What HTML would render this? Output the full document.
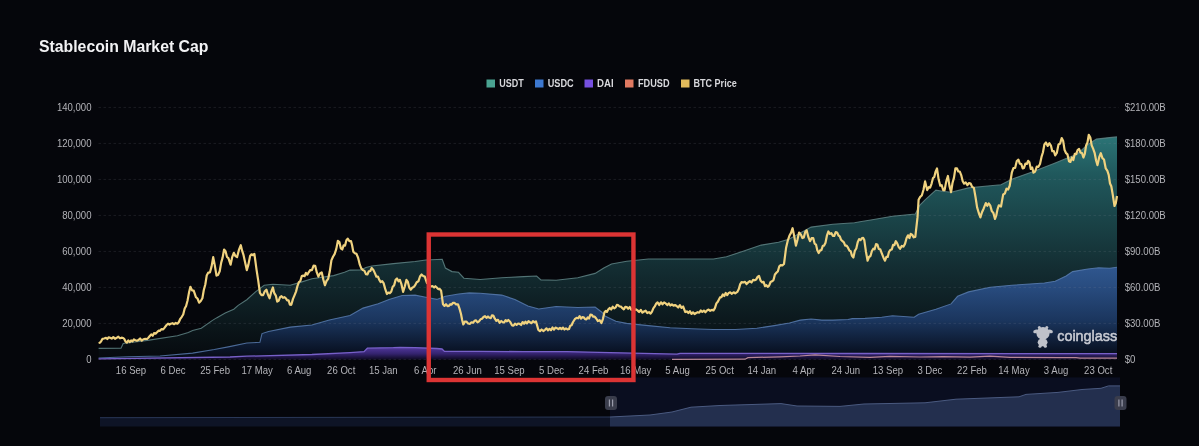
<!DOCTYPE html><html><head><meta charset="utf-8"><style>
html,body{margin:0;padding:0;background:#05060b;width:1199px;height:446px;overflow:hidden}
svg{position:absolute;left:0;top:0;display:block;filter:blur(0.3px)}
text{font-family:"Liberation Sans",sans-serif}
</style></head><body>
<svg width="1199" height="446" viewBox="0 0 1199 446">
<defs>
<linearGradient id="gT" gradientUnits="userSpaceOnUse" x1="0" y1="137" x2="0" y2="359.4"><stop offset="0" stop-color="rgb(43,116,118)"/><stop offset="0.17" stop-color="rgb(32,88,92)"/><stop offset="0.6" stop-color="rgb(19,44,49)"/><stop offset="1" stop-color="rgb(6,9,13)"/></linearGradient>
<linearGradient id="gC" gradientUnits="userSpaceOnUse" x1="0" y1="267" x2="0" y2="359.4"><stop offset="0" stop-color="rgb(50,90,150)"/><stop offset="0.2" stop-color="rgb(43,80,136)"/><stop offset="0.58" stop-color="rgb(28,56,99)"/><stop offset="0.9" stop-color="rgb(10,20,40)"/><stop offset="1" stop-color="rgb(7,10,20)"/></linearGradient>
<linearGradient id="gD" gradientUnits="userSpaceOnUse" x1="0" y1="347" x2="0" y2="359.4"><stop offset="0" stop-color="#53399f"/><stop offset="0.55" stop-color="#34236e"/><stop offset="1" stop-color="#0e0a22"/></linearGradient>
</defs>

<path d="M98.6,348.4 L121.0,348.2 L123.2,343.4 L149.2,340.1 L177.4,335.8 L188.3,332.5 L192.6,330.4 L201.3,328.2 L212.1,320.6 L216.5,317.9 L225.2,313.0 L233.8,309.2 L238.2,305.4 L246.8,299.7 L255.5,291.8 L264.2,285.3 L272.9,284.2 L290.2,285.3 L301.1,282.1 L311.9,278.8 L333.6,275.6 L344.5,272.3 L350.0,270.1 L360.8,270.0 L366.0,267.5 L371.7,266.0 L393.4,263.6 L415.1,261.5 L425.9,260.0 L442.2,259.3 L445.4,268.0 L452.0,271.6 L458.5,272.3 L463.9,278.2 L480.2,279.5 L501.8,277.7 L523.5,276.6 L536.6,276.0 L540.9,279.9 L556.1,280.3 L577.8,277.7 L595.1,273.4 L603.8,268.0 L611.5,264.0 L626.7,261.2 L648.4,259.0 L680.9,259.0 L713.5,259.0 L726.5,256.8 L743.8,251.0 L761.2,245.1 L778.5,242.3 L789.4,239.0 L811.1,227.1 L832.8,224.3 L854.5,222.8 L860.0,221.7 L870.8,220.0 L892.5,216.2 L915.3,214.0 L919.7,205.3 L925.1,199.8 L935.9,190.1 L942.4,191.2 L951.1,192.2 L968.5,187.9 L990.2,185.7 L1001.0,184.7 L1011.8,179.2 L1033.5,171.6 L1055.2,163.0 L1066.1,158.6 L1076.9,154.3 L1087.8,144.5 L1096.4,139.1 L1109.5,137.6 L1117.0,136.9 L1117.0,359.4 L98.6,359.4 Z" fill="url(#gT)"/>
<path d="M98.6,348.4 L121.0,348.2 L123.2,343.4 L149.2,340.1 L177.4,335.8 L188.3,332.5 L192.6,330.4 L201.3,328.2 L212.1,320.6 L216.5,317.9 L225.2,313.0 L233.8,309.2 L238.2,305.4 L246.8,299.7 L255.5,291.8 L264.2,285.3 L272.9,284.2 L290.2,285.3 L301.1,282.1 L311.9,278.8 L333.6,275.6 L344.5,272.3 L350.0,270.1 L360.8,270.0 L366.0,267.5 L371.7,266.0 L393.4,263.6 L415.1,261.5 L425.9,260.0 L442.2,259.3 L445.4,268.0 L452.0,271.6 L458.5,272.3 L463.9,278.2 L480.2,279.5 L501.8,277.7 L523.5,276.6 L536.6,276.0 L540.9,279.9 L556.1,280.3 L577.8,277.7 L595.1,273.4 L603.8,268.0 L611.5,264.0 L626.7,261.2 L648.4,259.0 L680.9,259.0 L713.5,259.0 L726.5,256.8 L743.8,251.0 L761.2,245.1 L778.5,242.3 L789.4,239.0 L811.1,227.1 L832.8,224.3 L854.5,222.8 L860.0,221.7 L870.8,220.0 L892.5,216.2 L915.3,214.0 L919.7,205.3 L925.1,199.8 L935.9,190.1 L942.4,191.2 L951.1,192.2 L968.5,187.9 L990.2,185.7 L1001.0,184.7 L1011.8,179.2 L1033.5,171.6 L1055.2,163.0 L1066.1,158.6 L1076.9,154.3 L1087.8,144.5 L1096.4,139.1 L1109.5,137.6 L1117.0,136.9" fill="none" stroke="#5f8485" stroke-width="1.1" opacity="0.85"/>
<path d="M98.6,358.0 L127.5,356.8 L160.0,356.0 L192.6,353.1 L214.3,349.5 L229.5,346.6 L246.8,343.0 L259.9,342.3 L262.0,333.6 L268.5,331.5 L290.2,327.1 L311.9,325.0 L329.3,320.0 L350.0,315.5 L363.0,308.1 L378.2,303.8 L389.0,299.4 L402.1,295.5 L415.1,295.1 L425.9,297.2 L436.8,299.4 L445.4,296.2 L458.5,294.0 L469.3,292.9 L480.2,293.3 L501.8,295.1 L514.9,299.4 L527.9,306.0 L538.7,309.0 L556.1,306.5 L577.8,307.5 L595.1,307.0 L601.6,312.0 L605.0,316.0 L615.8,321.2 L626.7,323.4 L648.4,325.6 L670.1,327.7 L691.8,328.8 L713.5,329.5 L735.2,329.5 L756.8,328.2 L774.2,325.6 L789.4,323.0 L800.2,320.1 L811.1,319.0 L821.9,320.1 L832.8,320.1 L848.0,319.5 L852.3,318.6 L865.0,318.4 L881.7,317.3 L892.5,315.8 L914.2,317.3 L918.6,314.3 L935.9,309.3 L951.1,303.9 L957.6,296.3 L968.5,291.9 L990.2,287.2 L1011.8,285.2 L1044.4,283.0 L1055.2,281.3 L1066.1,275.9 L1072.6,271.6 L1087.8,269.0 L1098.6,267.7 L1109.5,268.3 L1117.0,267.2 L1117.0,359.4 L98.6,359.4 Z" fill="url(#gC)" opacity="0.92"/>
<path d="M98.6,358.0 L127.5,356.8 L160.0,356.0 L192.6,353.1 L214.3,349.5 L229.5,346.6 L246.8,343.0 L259.9,342.3 L262.0,333.6 L268.5,331.5 L290.2,327.1 L311.9,325.0 L329.3,320.0 L350.0,315.5 L363.0,308.1 L378.2,303.8 L389.0,299.4 L402.1,295.5 L415.1,295.1 L425.9,297.2 L436.8,299.4 L445.4,296.2 L458.5,294.0 L469.3,292.9 L480.2,293.3 L501.8,295.1 L514.9,299.4 L527.9,306.0 L538.7,309.0 L556.1,306.5 L577.8,307.5 L595.1,307.0 L601.6,312.0 L605.0,316.0 L615.8,321.2 L626.7,323.4 L648.4,325.6 L670.1,327.7 L691.8,328.8 L713.5,329.5 L735.2,329.5 L756.8,328.2 L774.2,325.6 L789.4,323.0 L800.2,320.1 L811.1,319.0 L821.9,320.1 L832.8,320.1 L848.0,319.5 L852.3,318.6 L865.0,318.4 L881.7,317.3 L892.5,315.8 L914.2,317.3 L918.6,314.3 L935.9,309.3 L951.1,303.9 L957.6,296.3 L968.5,291.9 L990.2,287.2 L1011.8,285.2 L1044.4,283.0 L1055.2,281.3 L1066.1,275.9 L1072.6,271.6 L1087.8,269.0 L1098.6,267.7 L1109.5,268.3 L1117.0,267.2" fill="none" stroke="#5b80b4" stroke-width="1.1" opacity="0.8"/>
<path d="M98.6,358.8 L230.0,357.0 L246.8,356.2 L311.9,354.5 L350.0,352.6 L364.0,351.6 L367.4,348.2 L393.4,347.6 L400.0,347.3 L415.1,347.7 L436.8,348.5 L442.0,349.0 L444.5,351.4 L480.2,351.4 L523.5,351.6 L566.9,351.6 L610.0,352.6 L677.0,354.2 L680.0,353.4 L865.0,353.5 L1117.0,353.6 L1117.0,359.4 L98.6,359.4 Z" fill="url(#gD)"/>
<path d="M98.6,358.8 L230.0,357.0 L246.8,356.2 L311.9,354.5 L350.0,352.6 L364.0,351.6 L367.4,348.2 L393.4,347.6 L400.0,347.3 L415.1,347.7 L436.8,348.5 L442.0,349.0 L444.5,351.4 L480.2,351.4 L523.5,351.6 L566.9,351.6 L610.0,352.6 L677.0,354.2 L680.0,353.4 L865.0,353.5 L1117.0,353.6" fill="none" stroke="#7760c8" stroke-width="1.3"/>
<path d="M672.0,359.4 L745.0,359.2 L748.0,357.6 L780.0,356.8 L800.0,356.0 L815.0,354.8 L840.0,356.5 L870.0,357.3 L890.0,356.3 L920.0,357.0 L943.0,356.6 L970.0,357.2 L990.0,356.1 L1010.0,357.3 L1060.0,357.6 L1076.0,357.6 L1080.0,358.2 L1117.0,358.2" fill="none" stroke="#b88898" stroke-width="1.2"/>
<line x1="98.5" y1="107.4" x2="1119" y2="107.4" stroke="#9a9caa" stroke-opacity="0.15" stroke-width="1" stroke-dasharray="2.5 2.5"/>
<line x1="98.5" y1="143.4" x2="1119" y2="143.4" stroke="#9a9caa" stroke-opacity="0.15" stroke-width="1" stroke-dasharray="2.5 2.5"/>
<line x1="98.5" y1="179.4" x2="1119" y2="179.4" stroke="#9a9caa" stroke-opacity="0.15" stroke-width="1" stroke-dasharray="2.5 2.5"/>
<line x1="98.5" y1="215.4" x2="1119" y2="215.4" stroke="#9a9caa" stroke-opacity="0.15" stroke-width="1" stroke-dasharray="2.5 2.5"/>
<line x1="98.5" y1="251.4" x2="1119" y2="251.4" stroke="#9a9caa" stroke-opacity="0.15" stroke-width="1" stroke-dasharray="2.5 2.5"/>
<line x1="98.5" y1="287.4" x2="1119" y2="287.4" stroke="#9a9caa" stroke-opacity="0.15" stroke-width="1" stroke-dasharray="2.5 2.5"/>
<line x1="98.5" y1="323.4" x2="1119" y2="323.4" stroke="#9a9caa" stroke-opacity="0.15" stroke-width="1" stroke-dasharray="2.5 2.5"/>
<line x1="98.5" y1="359.4" x2="1119" y2="359.4" stroke="#9a9caa" stroke-opacity="0.15" stroke-width="1" stroke-dasharray="2.5 2.5"/>
<path d="M98.6,343.0 L99.8,342.7 L101.0,341.5 L102.5,338.8 L104.0,338.5 L106.0,337.9 L107.3,339.0 L108.7,337.3 L110.0,337.8 L111.7,338.6 L113.3,337.1 L115.0,338.8 L116.7,337.8 L118.3,336.7 L120.0,338.3 L121.6,337.7 L123.2,338.0 L124.3,339.0 L125.5,341.5 L126.9,342.5 L128.3,340.4 L129.7,342.1 L131.1,340.5 L132.5,341.4 L133.9,339.4 L135.3,340.3 L136.9,340.7 L138.4,340.1 L140.1,338.5 L141.7,340.7 L143.4,339.2 L145.2,338.8 L147.1,339.0 L148.4,337.8 L149.8,336.0 L151.2,334.4 L152.7,335.8 L154.1,333.1 L155.6,333.6 L157.0,332.3 L158.5,330.7 L160.0,330.8 L161.4,329.1 L162.9,329.5 L164.4,327.9 L166.6,325.0 L168.0,323.7 L169.5,324.7 L170.9,323.7 L172.5,323.2 L174.2,324.2 L175.8,322.9 L177.4,323.7 L178.9,322.0 L180.3,318.8 L181.8,316.8 L183.2,314.5 L184.7,308.6 L186.1,306.0 L187.5,300.7 L189.0,292.6 L190.4,286.8 L192.1,290.4 L193.7,290.7 L195.9,297.2 L197.5,298.5 L199.1,302.7 L200.8,301.0 L202.4,298.3 L203.8,290.0 L205.3,284.5 L206.7,275.6 L208.3,272.6 L210.0,272.3 L211.6,266.4 L213.2,257.1 L214.8,265.4 L216.5,275.6 L218.1,274.9 L219.7,271.2 L221.2,262.6 L222.6,257.6 L224.1,249.5 L225.5,251.1 L227.0,257.0 L228.4,258.2 L230.6,264.7 L232.2,257.1 L233.8,252.8 L235.4,256.1 L237.1,257.1 L238.9,249.9 L240.8,245.2 L242.1,250.7 L243.4,254.6 L244.7,260.4 L246.8,270.1 L248.4,264.6 L250.1,256.0 L251.5,254.3 L253.0,255.2 L254.4,253.9 L256.6,270.1 L258.2,280.4 L259.9,292.9 L261.5,295.2 L263.1,295.1 L264.8,291.2 L266.4,289.7 L268.0,294.8 L269.6,298.3 L271.2,292.0 L272.9,287.5 L274.3,293.2 L275.8,295.6 L277.2,301.6 L278.6,300.8 L280.1,297.2 L281.5,296.2 L283.0,297.8 L284.4,297.2 L285.9,298.3 L287.2,300.3 L288.6,300.4 L289.9,304.7 L291.3,304.8 L293.0,298.9 L294.6,295.1 L296.0,291.6 L297.5,285.9 L298.9,282.1 L300.3,281.0 L301.8,276.1 L303.2,275.6 L304.6,276.2 L305.9,272.8 L307.3,274.7 L308.7,272.3 L310.3,270.0 L311.9,270.1 L313.6,265.7 L315.2,265.8 L316.8,272.4 L318.4,276.6 L320.0,273.5 L321.7,272.3 L323.3,279.5 L324.9,285.3 L326.5,281.0 L328.2,278.8 L329.8,271.3 L331.4,260.4 L333.0,256.8 L334.7,253.9 L336.3,248.9 L337.9,240.8 L339.4,242.0 L340.8,248.3 L342.3,249.5 L343.6,245.3 L345.0,245.7 L346.4,240.2 L347.7,238.7 L349.4,241.1 L351.0,241.0 L352.1,245.3 L353.3,251.7 L354.9,253.3 L356.5,253.9 L358.1,257.7 L359.8,264.7 L361.4,268.6 L363.0,270.1 L364.5,270.9 L365.9,274.1 L367.4,274.5 L368.8,271.3 L370.3,271.0 L371.7,268.0 L373.4,269.9 L375.0,273.4 L376.4,276.7 L377.9,276.5 L379.3,279.9 L380.7,282.1 L382.2,281.1 L383.6,283.1 L385.2,288.9 L386.9,294.0 L388.3,292.6 L389.8,293.1 L391.2,291.8 L392.7,286.7 L394.1,285.4 L395.6,279.9 L397.0,278.5 L398.5,281.3 L399.9,279.9 L401.5,284.4 L403.1,291.8 L404.8,286.5 L406.4,279.9 L407.8,281.7 L409.3,287.7 L410.7,289.7 L412.2,287.8 L413.6,287.1 L415.1,285.3 L416.7,282.2 L418.4,281.3 L420.0,276.5 L421.6,274.5 L423.2,276.0 L424.8,276.6 L427.0,283.1 L428.4,283.0 L429.9,286.1 L431.3,286.4 L432.7,286.2 L434.1,287.5 L435.4,286.2 L436.8,287.5 L438.2,289.1 L439.7,288.9 L441.1,290.7 L443.0,304.3 L444.5,305.9 L446.0,304.2 L447.5,306.1 L449.0,305.8 L450.3,304.2 L451.6,304.6 L453.0,302.8 L454.3,302.8 L456.1,304.4 L458.0,304.3 L459.5,308.6 L461.0,314.0 L462.1,319.7 L463.3,324.5 L464.8,321.7 L466.3,321.5 L468.1,323.5 L470.0,323.8 L471.5,322.3 L473.0,322.8 L474.5,320.8 L476.0,320.3 L477.5,322.3 L479.0,321.3 L480.5,319.3 L482.0,318.8 L483.5,317.0 L485.0,316.1 L486.5,317.9 L488.0,316.5 L489.5,317.8 L490.8,318.1 L492.0,315.3 L493.3,315.5 L494.8,318.7 L496.3,320.8 L498.0,319.8 L499.6,322.8 L501.3,321.0 L503.0,322.3 L504.3,322.3 L505.6,320.1 L507.0,321.3 L508.3,320.0 L510.1,321.7 L512.0,325.3 L513.5,325.6 L515.0,323.7 L516.6,324.8 L518.1,323.5 L519.6,323.8 L521.1,325.0 L522.6,322.1 L524.1,323.8 L525.5,321.7 L527.0,323.4 L528.5,321.1 L530.0,322.3 L531.5,323.2 L533.0,321.1 L534.5,322.3 L536.0,321.5 L537.1,325.4 L538.3,329.8 L540.0,331.1 L541.6,329.5 L543.3,331.0 L545.0,329.8 L546.5,328.3 L548.0,330.3 L549.5,328.8 L551.0,330.3 L552.5,327.5 L554.0,329.7 L555.5,327.6 L557.0,328.3 L558.5,329.1 L560.0,327.8 L561.5,329.1 L563.0,327.6 L564.5,329.5 L566.0,328.3 L567.5,329.3 L569.0,329.0 L570.3,325.7 L571.6,325.2 L572.9,322.3 L574.8,319.2 L576.6,317.8 L578.1,318.3 L579.6,316.1 L581.1,318.6 L582.6,317.0 L583.9,317.5 L585.1,319.1 L586.4,319.3 L587.7,317.5 L589.0,318.5 L590.4,314.7 L591.7,314.8 L593.2,316.7 L594.7,316.7 L596.2,318.5 L597.9,321.1 L599.7,320.2 L601.4,323.0 L602.9,319.1 L604.4,312.5 L605.7,310.8 L606.9,311.9 L608.2,309.5 L609.7,307.9 L611.2,309.5 L612.7,306.7 L614.2,308.3 L615.7,307.3 L616.9,304.9 L618.0,305.0 L619.5,306.5 L620.9,306.6 L622.4,308.2 L623.8,309.3 L625.3,306.9 L626.7,307.1 L628.2,308.8 L629.8,307.0 L631.3,309.8 L632.9,308.2 L634.4,310.2 L636.0,309.3 L637.5,310.4 L639.1,312.0 L640.8,309.9 L642.4,312.7 L644.0,311.5 L645.6,310.7 L647.3,313.0 L649.0,312.1 L650.6,313.6 L652.0,311.6 L653.3,308.4 L654.6,306.7 L656.0,303.9 L657.6,302.4 L659.2,305.0 L660.9,302.3 L662.5,304.3 L664.1,302.4 L665.7,303.4 L667.3,305.1 L668.8,303.4 L670.4,305.5 L671.9,304.3 L673.5,305.7 L675.0,305.0 L676.6,306.0 L678.2,307.5 L679.9,305.2 L681.5,307.8 L683.1,306.5 L685.3,312.1 L686.8,311.4 L688.4,313.0 L689.9,311.2 L691.5,313.9 L693.0,312.4 L694.6,314.0 L696.1,313.0 L697.7,312.2 L699.2,312.7 L700.8,310.5 L702.3,311.9 L703.9,310.6 L705.4,312.3 L707.0,310.4 L708.6,309.6 L710.2,310.8 L711.9,309.9 L713.5,310.4 L714.9,308.1 L716.4,303.4 L717.8,301.7 L720.0,297.4 L721.4,297.1 L722.9,294.4 L724.3,296.0 L725.7,292.9 L727.2,295.2 L728.6,293.0 L730.2,292.4 L731.9,293.8 L733.6,292.3 L735.2,293.3 L737.3,291.9 L738.8,289.1 L740.2,284.1 L741.7,282.0 L743.3,282.5 L745.0,281.8 L746.6,284.0 L748.2,282.4 L749.8,281.1 L751.5,282.5 L753.1,279.9 L754.7,280.3 L756.1,279.6 L757.6,276.9 L759.0,275.9 L760.6,280.7 L762.3,282.4 L763.6,281.9 L765.0,286.2 L766.4,285.2 L767.7,286.8 L769.1,285.6 L770.6,282.0 L772.0,281.3 L773.5,280.1 L774.9,274.5 L776.4,272.7 L777.8,271.5 L779.3,266.3 L780.7,265.1 L782.4,265.3 L784.0,264.0 L786.1,247.7 L787.8,240.5 L789.4,235.8 L791.0,232.9 L792.6,228.2 L794.2,236.1 L795.9,245.6 L797.5,239.6 L799.1,232.5 L800.8,234.4 L802.4,238.0 L803.8,237.4 L805.3,231.8 L806.7,230.4 L808.4,237.2 L810.0,241.2 L811.6,238.2 L813.2,238.0 L814.6,243.6 L816.0,244.6 L817.3,250.2 L818.7,253.1 L820.1,250.4 L821.4,250.2 L822.8,245.8 L824.1,245.6 L825.5,242.7 L827.0,235.3 L828.4,231.5 L829.9,233.9 L831.3,233.1 L832.8,235.8 L834.2,236.0 L835.7,232.2 L837.1,232.5 L838.5,235.5 L839.8,236.4 L841.1,239.8 L842.5,241.2 L843.9,242.3 L845.2,245.7 L846.6,245.6 L848.0,247.7 L849.4,250.6 L850.7,251.3 L852.0,255.9 L853.4,257.5 L854.8,250.9 L856.3,248.5 L857.7,242.3 L859.1,239.1 L860.6,240.1 L862.0,238.0 L863.1,237.9 L864.3,240.1 L866.0,252.0 L867.6,260.7 L869.0,257.0 L870.5,256.0 L871.9,251.0 L873.3,248.7 L874.6,249.3 L876.0,244.2 L877.4,244.5 L878.8,249.0 L880.3,249.4 L881.7,253.1 L883.4,257.4 L885.0,260.7 L886.4,256.9 L887.7,257.0 L889.0,251.8 L890.4,249.9 L891.8,249.5 L893.1,244.9 L894.4,245.2 L895.8,241.2 L897.2,243.3 L898.7,247.1 L900.1,248.8 L901.8,245.9 L903.4,246.6 L905.0,243.9 L906.6,238.0 L908.0,235.3 L909.4,238.1 L910.7,233.9 L912.1,234.7 L913.7,237.3 L915.3,236.9 L917.5,217.4 L918.6,199.8 L920.2,196.9 L921.8,195.5 L923.5,189.7 L925.1,181.4 L927.2,190.1 L928.7,187.2 L930.1,187.6 L931.6,183.6 L933.0,178.1 L934.3,177.0 L935.6,171.6 L937.0,168.4 L938.6,179.3 L940.3,185.7 L941.7,185.2 L943.2,190.1 L944.6,190.1 L946.2,181.6 L947.9,176.0 L949.5,186.1 L951.1,192.2 L952.5,183.0 L954.0,177.6 L955.4,168.4 L956.9,168.3 L958.3,171.5 L959.8,171.6 L961.2,175.1 L962.7,181.3 L964.1,183.6 L965.7,182.4 L967.4,185.1 L969.0,183.0 L970.6,183.6 L972.2,186.9 L973.9,187.9 L975.5,197.0 L977.1,207.4 L978.8,213.0 L980.4,217.4 L982.0,212.2 L983.6,208.7 L985.8,203.1 L987.3,205.8 L988.7,203.5 L990.2,205.4 L991.8,211.1 L993.4,213.0 L995.0,219.0 L996.3,215.3 L997.5,209.4 L998.8,205.3 L1001.0,206.5 L1003.2,194.4 L1004.8,193.6 L1006.5,188.7 L1008.1,189.5 L1009.7,185.7 L1011.8,172.7 L1013.4,168.1 L1015.1,168.0 L1016.8,161.0 L1018.4,159.7 L1019.8,163.6 L1021.3,164.0 L1022.7,168.4 L1024.0,167.9 L1025.4,163.7 L1026.8,164.0 L1028.1,160.8 L1029.4,162.2 L1030.8,169.0 L1032.2,167.5 L1033.5,172.7 L1035.1,171.5 L1036.8,166.6 L1038.4,166.8 L1040.0,164.0 L1041.5,156.9 L1042.9,152.5 L1044.4,144.5 L1046.0,142.5 L1047.7,145.9 L1049.3,143.2 L1050.9,145.6 L1052.3,151.2 L1053.8,151.0 L1055.2,155.4 L1056.8,153.0 L1058.5,144.4 L1060.1,143.6 L1061.7,138.0 L1063.2,141.1 L1064.6,150.1 L1066.1,153.2 L1067.5,154.4 L1069.0,161.2 L1070.4,161.9 L1071.9,157.5 L1073.3,160.0 L1074.8,153.8 L1076.2,154.1 L1077.6,150.1 L1079.1,148.9 L1080.5,152.7 L1082.0,153.0 L1083.4,157.5 L1084.8,153.9 L1086.1,145.5 L1087.5,142.4 L1088.8,134.8 L1090.3,137.5 L1091.7,145.4 L1093.2,148.9 L1094.6,152.8 L1096.1,160.5 L1097.5,165.1 L1099.2,157.2 L1100.8,153.2 L1102.4,158.1 L1104.0,159.5 L1105.7,168.3 L1107.3,170.6 L1108.7,174.9 L1110.0,183.5 L1111.3,186.3 L1112.7,194.4 L1114.5,206.0 L1115.8,203.1 L1117.0,196.0" fill="none" stroke="#f0d27f" stroke-width="2.2" stroke-linejoin="round"/>
<text x="39" y="51.5" font-size="15.8" font-weight="bold" fill="#f2f2f4">Stablecoin Market Cap</text>
<rect x="486.5" y="79.5" width="8.5" height="8" fill="#4aa392"/>
<text x="499.3" y="86.7" font-size="10" font-weight="bold" fill="#d8d8dc" textLength="24.5" lengthAdjust="spacingAndGlyphs">USDT</text>
<rect x="535" y="79.5" width="8.5" height="8" fill="#3d78d0"/>
<text x="547.7" y="86.7" font-size="10" font-weight="bold" fill="#d8d8dc" textLength="26" lengthAdjust="spacingAndGlyphs">USDC</text>
<rect x="584.5" y="79.5" width="8.5" height="8" fill="#7650e0"/>
<text x="597.1" y="86.7" font-size="10" font-weight="bold" fill="#d8d8dc" textLength="16.6" lengthAdjust="spacingAndGlyphs">DAI</text>
<rect x="625" y="79.5" width="8.5" height="8" fill="#e07a62"/>
<text x="638" y="86.7" font-size="10" font-weight="bold" fill="#d8d8dc" textLength="31.6" lengthAdjust="spacingAndGlyphs">FDUSD</text>
<rect x="681" y="79.5" width="8.5" height="8" fill="#e3bb5c"/>
<text x="693.5" y="86.7" font-size="10" font-weight="bold" fill="#d8d8dc" textLength="43.2" lengthAdjust="spacingAndGlyphs">BTC Price</text>
<text x="91.5" y="110.8" font-size="10.3" fill="#b3b3b8" text-anchor="end" textLength="34.6" lengthAdjust="spacingAndGlyphs">140,000</text>
<text x="91.5" y="146.8" font-size="10.3" fill="#b3b3b8" text-anchor="end" textLength="34.6" lengthAdjust="spacingAndGlyphs">120,000</text>
<text x="91.5" y="182.8" font-size="10.3" fill="#b3b3b8" text-anchor="end" textLength="34.6" lengthAdjust="spacingAndGlyphs">100,000</text>
<text x="91.5" y="218.8" font-size="10.3" fill="#b3b3b8" text-anchor="end" textLength="29.3" lengthAdjust="spacingAndGlyphs">80,000</text>
<text x="91.5" y="254.8" font-size="10.3" fill="#b3b3b8" text-anchor="end" textLength="29.3" lengthAdjust="spacingAndGlyphs">60,000</text>
<text x="91.5" y="290.8" font-size="10.3" fill="#b3b3b8" text-anchor="end" textLength="29.3" lengthAdjust="spacingAndGlyphs">40,000</text>
<text x="91.5" y="326.8" font-size="10.3" fill="#b3b3b8" text-anchor="end" textLength="29.3" lengthAdjust="spacingAndGlyphs">20,000</text>
<text x="91.5" y="362.8" font-size="10.3" fill="#b3b3b8" text-anchor="end" textLength="5.3" lengthAdjust="spacingAndGlyphs">0</text>
<text x="1124.7" y="110.8" font-size="10.3" fill="#b3b3b8" textLength="41.0" lengthAdjust="spacingAndGlyphs">$210.00B</text>
<text x="1124.7" y="146.8" font-size="10.3" fill="#b3b3b8" textLength="41.0" lengthAdjust="spacingAndGlyphs">$180.00B</text>
<text x="1124.7" y="182.8" font-size="10.3" fill="#b3b3b8" textLength="41.0" lengthAdjust="spacingAndGlyphs">$150.00B</text>
<text x="1124.7" y="218.8" font-size="10.3" fill="#b3b3b8" textLength="41.0" lengthAdjust="spacingAndGlyphs">$120.00B</text>
<text x="1124.7" y="254.8" font-size="10.3" fill="#b3b3b8" textLength="35.7" lengthAdjust="spacingAndGlyphs">$90.00B</text>
<text x="1124.7" y="290.8" font-size="10.3" fill="#b3b3b8" textLength="35.7" lengthAdjust="spacingAndGlyphs">$60.00B</text>
<text x="1124.7" y="326.8" font-size="10.3" fill="#b3b3b8" textLength="35.7" lengthAdjust="spacingAndGlyphs">$30.00B</text>
<text x="1124.7" y="362.8" font-size="10.3" fill="#b3b3b8" textLength="10.7" lengthAdjust="spacingAndGlyphs">$0</text>
<text x="131.0" y="374.3" font-size="10.3" fill="#b3b3b8" text-anchor="middle" textLength="30.4" lengthAdjust="spacingAndGlyphs">16 Sep</text>
<text x="173.1" y="374.3" font-size="10.3" fill="#b3b3b8" text-anchor="middle" textLength="25.0" lengthAdjust="spacingAndGlyphs">6 Dec</text>
<text x="215.1" y="374.3" font-size="10.3" fill="#b3b3b8" text-anchor="middle" textLength="29.8" lengthAdjust="spacingAndGlyphs">25 Feb</text>
<text x="257.1" y="374.3" font-size="10.3" fill="#b3b3b8" text-anchor="middle" textLength="31.4" lengthAdjust="spacingAndGlyphs">17 May</text>
<text x="299.2" y="374.3" font-size="10.3" fill="#b3b3b8" text-anchor="middle" textLength="24.5" lengthAdjust="spacingAndGlyphs">6 Aug</text>
<text x="341.2" y="374.3" font-size="10.3" fill="#b3b3b8" text-anchor="middle" textLength="28.2" lengthAdjust="spacingAndGlyphs">26 Oct</text>
<text x="383.3" y="374.3" font-size="10.3" fill="#b3b3b8" text-anchor="middle" textLength="28.8" lengthAdjust="spacingAndGlyphs">15 Jan</text>
<text x="425.3" y="374.3" font-size="10.3" fill="#b3b3b8" text-anchor="middle" textLength="22.4" lengthAdjust="spacingAndGlyphs">6 Apr</text>
<text x="467.4" y="374.3" font-size="10.3" fill="#b3b3b8" text-anchor="middle" textLength="28.8" lengthAdjust="spacingAndGlyphs">26 Jun</text>
<text x="509.4" y="374.3" font-size="10.3" fill="#b3b3b8" text-anchor="middle" textLength="30.4" lengthAdjust="spacingAndGlyphs">15 Sep</text>
<text x="551.5" y="374.3" font-size="10.3" fill="#b3b3b8" text-anchor="middle" textLength="25.0" lengthAdjust="spacingAndGlyphs">5 Dec</text>
<text x="593.5" y="374.3" font-size="10.3" fill="#b3b3b8" text-anchor="middle" textLength="29.8" lengthAdjust="spacingAndGlyphs">24 Feb</text>
<text x="635.6" y="374.3" font-size="10.3" fill="#b3b3b8" text-anchor="middle" textLength="31.4" lengthAdjust="spacingAndGlyphs">16 May</text>
<text x="677.6" y="374.3" font-size="10.3" fill="#b3b3b8" text-anchor="middle" textLength="24.5" lengthAdjust="spacingAndGlyphs">5 Aug</text>
<text x="719.7" y="374.3" font-size="10.3" fill="#b3b3b8" text-anchor="middle" textLength="28.2" lengthAdjust="spacingAndGlyphs">25 Oct</text>
<text x="761.8" y="374.3" font-size="10.3" fill="#b3b3b8" text-anchor="middle" textLength="28.8" lengthAdjust="spacingAndGlyphs">14 Jan</text>
<text x="803.8" y="374.3" font-size="10.3" fill="#b3b3b8" text-anchor="middle" textLength="22.4" lengthAdjust="spacingAndGlyphs">4 Apr</text>
<text x="845.8" y="374.3" font-size="10.3" fill="#b3b3b8" text-anchor="middle" textLength="28.8" lengthAdjust="spacingAndGlyphs">24 Jun</text>
<text x="887.9" y="374.3" font-size="10.3" fill="#b3b3b8" text-anchor="middle" textLength="30.4" lengthAdjust="spacingAndGlyphs">13 Sep</text>
<text x="929.9" y="374.3" font-size="10.3" fill="#b3b3b8" text-anchor="middle" textLength="25.0" lengthAdjust="spacingAndGlyphs">3 Dec</text>
<text x="972.0" y="374.3" font-size="10.3" fill="#b3b3b8" text-anchor="middle" textLength="29.8" lengthAdjust="spacingAndGlyphs">22 Feb</text>
<text x="1014.0" y="374.3" font-size="10.3" fill="#b3b3b8" text-anchor="middle" textLength="31.4" lengthAdjust="spacingAndGlyphs">14 May</text>
<text x="1056.1" y="374.3" font-size="10.3" fill="#b3b3b8" text-anchor="middle" textLength="24.5" lengthAdjust="spacingAndGlyphs">3 Aug</text>
<text x="1098.2" y="374.3" font-size="10.3" fill="#b3b3b8" text-anchor="middle" textLength="28.2" lengthAdjust="spacingAndGlyphs">23 Oct</text>
<g fill="#bfc2ca"><ellipse cx="1043" cy="333.2" rx="6.6" ry="6.3"/><ellipse cx="1035.8" cy="331.4" rx="2.7" ry="1.7" transform="rotate(-20 1035.8 331.4)"/><ellipse cx="1050.3" cy="331.4" rx="2.7" ry="1.7" transform="rotate(20 1050.3 331.4)"/><circle cx="1039.3" cy="327.6" r="1.5"/><circle cx="1046.8" cy="327.6" r="1.5"/><ellipse cx="1042.6" cy="342.3" rx="4.9" ry="4"/><circle cx="1040" cy="346.2" r="1.6"/><circle cx="1045.3" cy="346.2" r="1.6"/></g>
<text x="1057.2" y="341.2" font-size="15.5" fill="#c8cbd3" stroke="#c8cbd3" stroke-width="0.55" textLength="60" lengthAdjust="spacingAndGlyphs">coinglass</text>
<rect x="610" y="377.4" width="510" height="49" fill="#0a0e20"/>
<path d="M100.0,417.7 L610.0,417.0 L610,426.5 L100,426.5 Z" fill="#0e1426"/>
<path d="M100.0,417.7 L610.0,417.0" fill="none" stroke="#2a3858" stroke-width="1"/>
<path d="M610.0,417.0 L650.0,415.0 L672.0,412.0 L691.0,407.2 L720.0,405.5 L781.0,403.6 L797.0,406.0 L840.0,406.4 L864.0,404.0 L925.0,402.8 L956.0,399.2 L1019.0,396.8 L1026.0,394.4 L1058.0,392.4 L1082.0,389.5 L1101.0,388.3 L1108.5,385.9 L1120.0,385.9 L1120,426.5 L610,426.5 Z" fill="#232f4e"/>
<path d="M610.0,417.0 L650.0,415.0 L672.0,412.0 L691.0,407.2 L720.0,405.5 L781.0,403.6 L797.0,406.0 L840.0,406.4 L864.0,404.0 L925.0,402.8 L956.0,399.2 L1019.0,396.8 L1026.0,394.4 L1058.0,392.4 L1082.0,389.5 L1101.0,388.3 L1108.5,385.9 L1120.0,385.9" fill="none" stroke="#4a5a80" stroke-width="1"/>
<rect x="605" y="396" width="12" height="14" rx="3" fill="#3a3d4c"/>
<rect x="608.8" y="399.5" width="1.2" height="7" fill="#9a9cab"/><rect x="612" y="399.5" width="1.2" height="7" fill="#9a9cab"/>
<rect x="1114.5" y="396" width="12" height="14" rx="3" fill="#3a3d4c"/>
<rect x="1118.3" y="399.5" width="1.2" height="7" fill="#9a9cab"/><rect x="1121.5" y="399.5" width="1.2" height="7" fill="#9a9cab"/>
<rect x="428.75" y="234.5" width="204.7" height="145.5" fill="none" stroke="#dc3434" stroke-width="4.4"/>
</svg></body></html>
